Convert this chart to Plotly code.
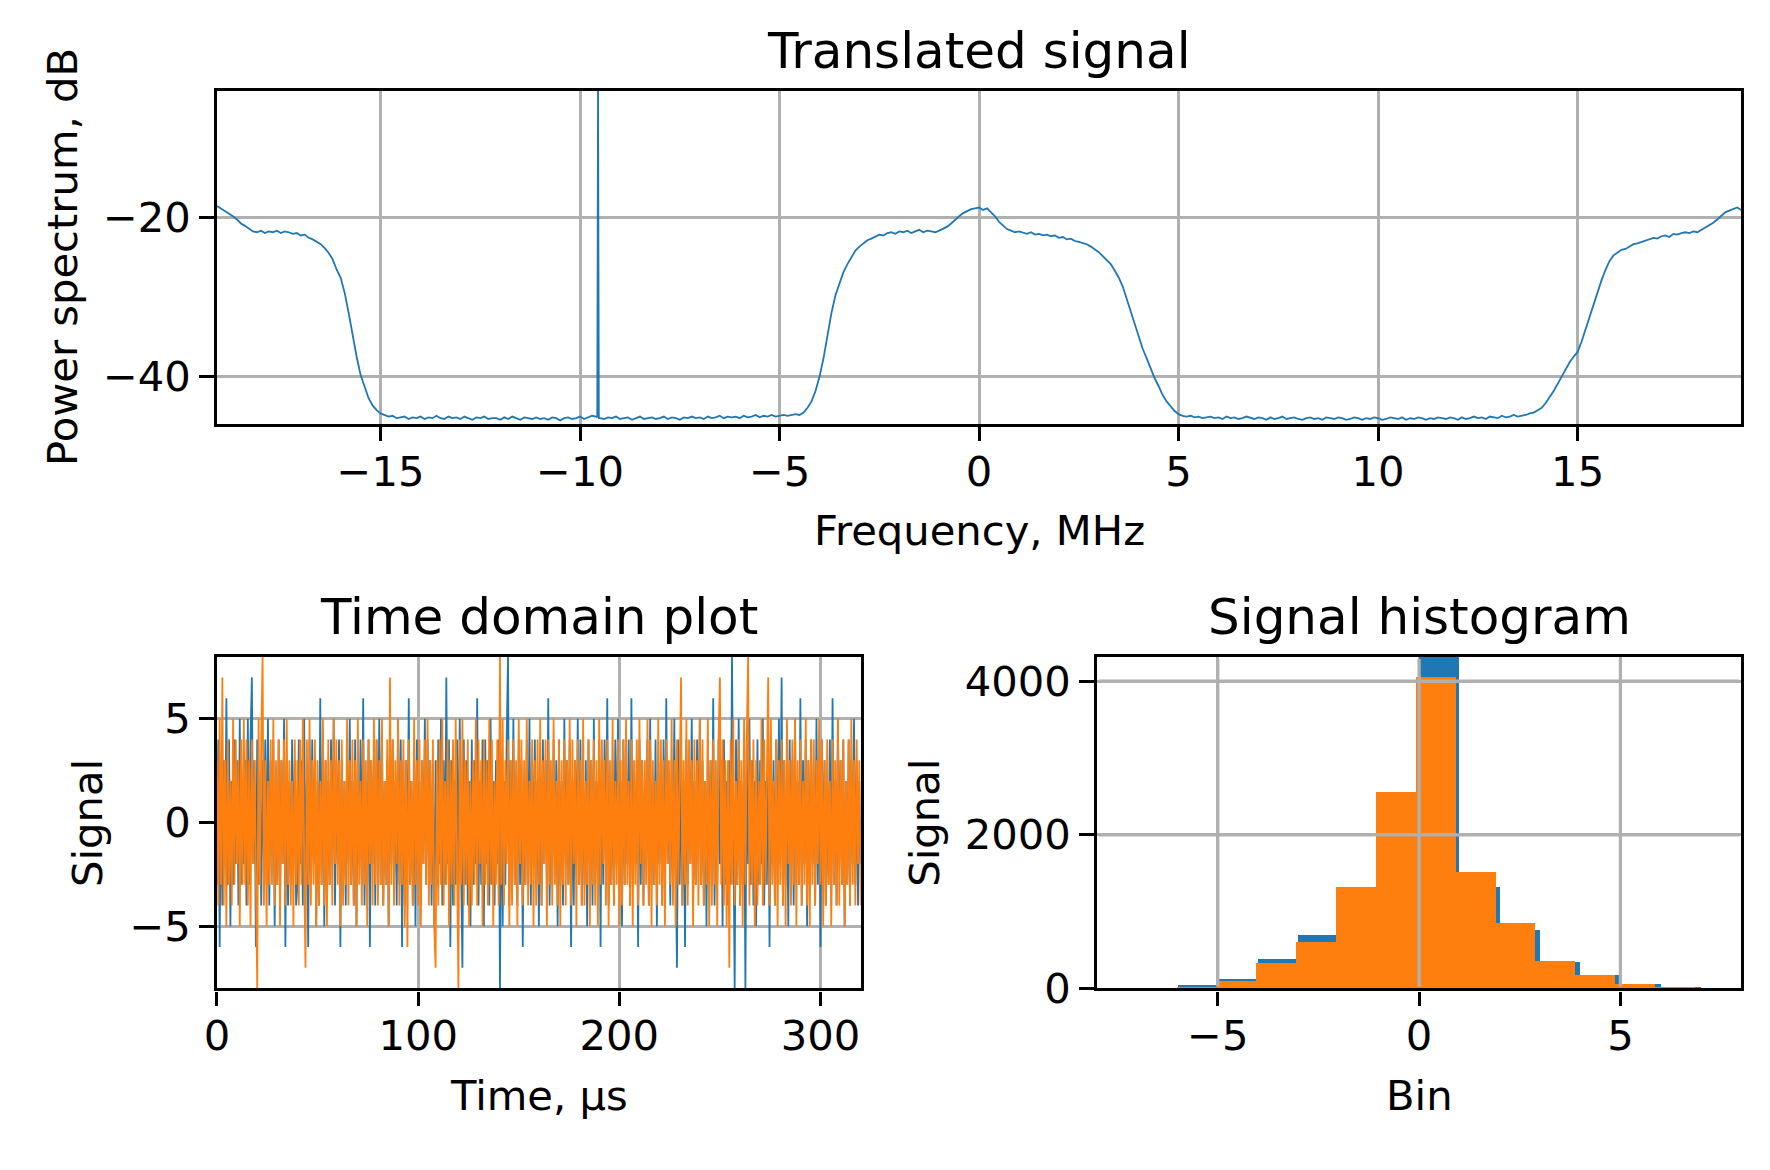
import numpy as np
import plotly.graph_objects as go

# ---------------- data: power spectrum (dB) on a 0.1 MHz grid from -19.1 MHz ----------------
spec_start_mhz = -19.1
spec_step_mhz = 0.1
power_db = [
    -18.6, -18.9, -19.3, -19.5, -19.9, -20.3, -20.8, -21.1, -21.5, -21.8,
    -21.9, -21.7, -22.0, -21.8, -21.9, -21.7, -22.0, -21.8, -21.9, -22.1,
    -22.0, -22.3, -22.2, -22.6, -22.8, -23.1, -23.4, -23.9, -24.5, -25.3,
    -26.6, -27.6, -29.5, -32.0, -34.9, -37.5, -39.8, -41.4, -42.7, -43.6,
    -44.2, -44.6, -44.8, -45.0, -44.9, -45.2, -45.1, -45.0, -45.3, -45.1,
    -45.2, -45.0, -45.3, -45.1, -45.2, -44.9, -45.2, -45.3, -45.0, -45.2,
    -45.1, -45.3, -45.0, -45.2, -45.4, -45.1, -45.2, -45.0, -45.3, -45.2,
    -45.2, -45.4, -45.1, -45.3, -45.0, -45.2, -45.4, -45.1, -45.2, -45.3,
    -45.1, -45.3, -45.2, -45.4, -45.1, -45.2, -45.5, -45.2, -45.1, -45.3,
    -45.2, -45.0, -45.3, -45.1, -44.9, -45.0, -45.2, -45.3, -45.1, -45.2,
    -45.0, -45.3, -45.2, -45.1, -45.4, -45.2, -45.0, -45.3, -45.2, -45.1,
    -45.3, -45.2, -45.0, -45.3, -45.1, -45.2, -45.4, -45.1, -45.2, -45.0,
    -45.2, -45.1, -45.3, -45.0, -45.2, -45.1, -44.9, -45.2, -45.0, -45.1,
    -45.0, -45.2, -44.9, -45.1, -45.0, -44.8, -45.1, -44.9, -45.0, -44.8,
    -45.0, -44.9, -44.8, -44.9, -44.8, -44.7, -44.8, -44.5, -43.9, -43.1,
    -41.8, -40.0, -37.7, -34.9, -32.0, -29.8, -28.3, -26.9, -25.9, -25.0,
    -24.2, -23.7, -23.3, -22.9, -22.7, -22.5, -22.2, -22.3, -22.0, -21.9,
    -22.1, -21.8, -21.9, -21.7, -22.0, -21.8, -21.6, -21.9, -21.7, -21.8,
    -21.9, -21.7, -21.5, -21.2, -20.8, -20.3, -19.9, -19.5, -19.2, -19.0,
    -18.9, -18.8, -19.1, -18.9, -19.4, -19.9, -20.6, -21.1, -21.5, -21.7,
    -21.9, -21.8, -22.0, -22.1, -21.9, -22.2, -22.1, -22.3, -22.2, -22.4,
    -22.3, -22.6, -22.5, -22.8, -22.7, -23.0, -23.1, -23.3, -23.4, -23.7,
    -24.0, -24.4, -24.9, -25.4, -25.9, -26.7, -27.6, -28.7, -30.3, -31.9,
    -33.6, -35.2, -36.5, -37.7, -39.0, -40.2, -41.2, -42.3, -43.1, -43.7,
    -44.3, -44.7, -44.9, -45.0, -44.9, -45.1, -45.0, -45.2, -45.1, -45.0,
    -45.2, -45.1, -45.3, -45.0, -45.2, -45.1, -45.3, -45.2, -45.0, -45.2,
    -45.3, -45.1, -45.2, -45.4, -45.1, -45.3, -45.2, -45.0, -45.3, -45.2,
    -45.1, -45.3, -45.4, -45.2, -45.1, -45.3, -45.2, -45.4, -45.1, -45.2,
    -45.3, -45.1, -45.2, -45.4, -45.3, -45.1, -45.2, -45.4, -45.2, -45.3,
    -45.1, -45.2, -45.4, -45.3, -45.1, -45.2, -45.3, -45.1, -45.4, -45.2,
    -45.3, -45.1, -45.2, -45.4, -45.2, -45.3, -45.1, -45.2, -45.3, -45.1,
    -45.2, -45.4, -45.1, -45.3, -45.2, -45.0, -45.2, -45.1, -45.3, -45.0,
    -45.1, -45.2, -44.9, -45.1, -45.0, -44.8, -45.0, -44.9, -44.8, -44.6,
    -44.5, -44.2, -43.9, -43.3, -42.6, -41.8, -40.9, -40.0, -39.0, -38.2,
    -37.5, -36.9, -35.6, -34.0, -32.4, -30.8, -29.3, -27.9, -26.6, -25.5,
    -24.8, -24.4, -24.1, -24.0, -23.7, -23.4, -23.3, -23.1, -22.9, -22.8,
    -22.6, -22.7, -22.4, -22.3, -22.5, -22.1, -22.2, -22.0, -21.9, -22.0,
    -21.8, -21.9, -21.6, -21.4, -21.1, -20.7, -20.3, -19.8, -19.4, -19.2,
    -19.0, -18.8, -19.1,
]
# narrow spur near -9.55 MHz
spur_freq_mhz = [-9.57, -9.55, -9.53]
spur_db = [-45.1, -3.0, -45.2]

# ---------------- data: time domain samples (2/3 µs spacing) ----------------
signal_i = [
    -3, 4, -6, 2, -4, 3, -2, 6, -3, 4, -5, 2, -3, 4, -2, 3, -4, 5, -3, 2,
    -2, 3, -4, 5, -3, 4, 7, -2, 3, -6, 4, -3, 2, -4, 3, -2, 4, -3, 5, -4,
    3, -2, 4, -5, 2, -3, 4, -4, 3, -2, 5, -6, 3, -4, 2, -3, 4, -2, 3, -4,
    -3, 4, -2, 3, -4, 5, -3, 2, -6, 4, -3, 4, -2, 3, -5, 2, -4, 6, -3, 4,
    -5, 3, -4, 2, -3, 4, -2, 5, -4, 3, -2, 4, -6, 3, -3, 2, -4, 3, -2, 5,
    -3, 2, -4, 4, -5, 3, -2, 4, -3, 6, -4, 2, -3, 4, -6, 3, -2, 3, -4, 4,
    -2, 5, -3, 4, -4, 2, -3, 3, -5, 4, -2, 4, -3, 2, -4, 5, -3, 4, -6, 3,
    -4, 3, -2, 6, -3, 2, -4, 3, -5, 4, -3, 2, -4, 3, -2, 5, -3, 4, -2, 3,
    -4, 2, -5, 3, -3, 4, -2, 5, -4, 3, -3, 7, -2, 4, -6, 3, -4, 2, -3, 4,
    -3, 5, -2, -7, 4, -3, 3, -4, 2, -5, 4, -3, 3, -2, 6, -4, 2, -3, 4, -5,
    4, -2, 3, -4, 5, -3, 2, -4, 3, -2, 4, -8, 3, -5, 2, -3, 4, 8, -4, 3,
    -2, 5, -3, 2, -4, 4, -3, 3, -6, 2, -3, 4, -2, 5, -4, 3, -2, 4, -3, 2,
    -5, 3, -4, 4, -2, 3, -3, 6, -4, 2, -3, 4, -2, 3, -5, 4, -3, 2, -4, 5,
    -2, 3, -3, 4, -6, 2, -4, 3, -2, 5, -3, 4, -4, 2, -3, 3, -5, 4, -2, 3,
    -4, 5, -3, 2, -2, 4, -6, 3, -3, 4, -2, 6, -4, 2, -3, 3, -4, 4, -2, 5,
    -3, 2, -5, 4, -3, 3, -2, 4, -4, 6, -3, 2, -2, 3, -6, 4, -3, 3, -4, 2,
    -2, 4, -4, 5, -3, 2, -3, 4, -5, 3, -2, 3, -4, 4, -3, 6, -2, 2, -4, 3,
    -3, 5, -2, -7, 4, -3, 3, -4, 2, -6, 4, -3, 3, -2, 5, -4, 2, -3, 4, -2,
    5, -3, 3, -4, 2, -5, 4, -2, 3, -3, 6, -4, 2, -3, 4, -2, 3, -5, 4, -3,
    2, -4, 3, -3, 8, -2, -8, 4, -3, 5, -4, 2, -3, 3, -8, 4, -2, 5, -3, 3,
    -4, 2, -5, 4, -3, 3, -2, 5, -4, 2, -3, 4, -6, 3, -2, 3, -4, 4, -3, 5,
    -2, 7, -4, 3, -3, 2, -5, 4, -2, 3, -4, 5, -3, 2, -3, 6, -4, 3, -2, 4,
    -5, 3, -3, 4, -2, 2, -4, 5, -3, 3, -6, 4, -2, 3, -4, 2, -3, 4, -4, 6,
    -3, 2, -4, 5, -2, 3, -3, 4, -5, 2, -3, 4, -4, 3, -2, 5, -3, 3, -4, 2,
    -2,
]
signal_q = [
    3, -4, 5, -3, 7, -4, 3, -5, 4, -3, 2, -4, 5, -3, 4, -2, 3, -5, 4, -3,
    5, -3, 4, -4, 3, -5, 4, -2, 3, -4, -8, 5, -3, 4, 8, -4, 3, -5, 2, -3,
    4, -3, 5, -4, 3, -3, 4, -5, 3, -2, 4, -4, 5, -3, 3, -4, 2, -5, 4, -3,
    3, -4, 4, -3, 5, -2, -7, 4, -3, 5, -4, 3, -3, 4, -5, 3, -4, 2, -3, 5,
    -4, 3, -5, 4, -3, 3, -4, 5, -2, 4, -3, 3, -5, 4, -4, 2, -3, 5, -4, 3,
    -3, 4, -4, 3, -5, 5, -3, 2, -4, 4, -3, 3, -5, 4, -2, 3, -4, 5, -3, 4,
    -4, 3, -3, 5, -4, 2, -3, 4, -5, 7, -3, 4, -4, 3, -2, 5, -4, 3, -3, 4,
    -5, 3, -6, 4, -3, 2, -4, 5, -3, 3, -4, 4, -5, 3, -2, 4, -3, 5, -4, 3,
    -3, 4, -5, -7, 3, -4, 4, -3, 5, -4, 2, -3, 4, -5, 3, -3, 4, -4, 5, -2,
    -8, 4, -3, 5, -4, 3, -3, 4, -5, 2, -4, 3, -3, 5, -4, 4, -2, 3, -5, 4,
    -3, 3, -4, 5, -3, 4, -5, 2, -3, 4, -4, 8, -3, 5, -4, 3, -2, 4, -5, 3,
    -4, 4, -3, 3, -5, 5, -2, 4, -4, 3, -3, 5, -4, 2, -3, 4, -5, 3, -4, 4,
    -3, 5, -4, 3, -2, 4, -5, 4, -3, 3, -4, 5, -3, 2, -4, 4, -5, 3, -3, 4,
    -4, 3, -3, 5, -4, 4, -2, 3, -5, 4, -3, 3, -4, 5, -4, 2, -3, 4, -5, 3,
    -3, 4, -4, 3, -5, 5, -3, 4, -2, 3, -4, 4, -5, 3, -3, 5, -4, 2, -3, 4,
    -5, 3, -4, 4, -3, 5, -3, 2, -4, 4, -5, 3, -3, 4, -4, 5, -2, 3, -4, 3,
    -3, 5, -4, 4, -5, 3, -3, 2, -4, 5, -3, 4, -4, 3, -5, 4, -2, 3, -3, 5,
    -4, 3, -5, 4, -3, 2, 7, -4, 3, -3, 5, -4, 4, -2, 3, -5, 4, -3, 3, -4,
    5, -3, 4, -4, 2, -3, 5, -5, 3, -4, 4, -3, 3, -5, 4, 7, -3, 4, -4, 3,
    -5, 3, -7, 4, -3, 5, -4, 2, -3, 4, -4, 3, -5, 5, -3, 4, 8, -4, 3, -3,
    4, -5, 3, -4, 2, -3, 5, -4, 4, -3, 3, 7, -4, 5, -3, 2, -4, 4, -5, 3,
    -3, 4, -4, 3, -5, 5, -2, 3, -4, 4, -3, 5, -5, 3, -3, 4, -4, 2, -3, 5,
    -4, 3, -5, 4, -3, 4, -4, 3, -2, 5, -3, 4, -5, 3, -4, 4, -3, 2, -5, 4,
    -3, 3, -4, 5, -4, 3, -3, 4, -5, 2, -3, 4, -4, 5, -3, 3, -4, 4, -2, 3,
    -4,
]
sample_period_us = 2.0 / 3.0

# ---------------- data: histograms ----------------
hist_i_edges = [-7, -6, -5, -4, -3, -2, -1, 0, 1, 2, 3, 4, 5, 6, 7]
hist_i_counts = [8, 47, 124, 384, 704, 1300, 2530, 4500, 1328, 769, 354, 179, 64, 26]
hist_q_edges = [-6.02, -5.03, -4.04, -3.05, -2.06, -1.07, -0.08, 0.91, 1.90, 2.89,
                3.88, 4.87, 5.86, 6.85]
hist_q_counts = [21, 102, 329, 611, 1328, 2557, 4057, 1520, 854, 367, 179, 64, 21]

# ---------------- labels ----------------
title_top = "Translated signal"
title_time = "Time domain plot"
title_hist = "Signal histogram"
xlabel_top = "Frequency, MHz"
ylabel_top = "Power spectrum, dB"
xlabel_time = "Time, µs"
ylabel_time = "Signal"
xlabel_hist = "Bin"
ylabel_hist = "Signal"

# ---------------- styling ----------------
W, H = 1770, 1170
BLUE = "#1f77b4"
ORANGE = "#ff7f0e"
GRID = "#b0b0b0"
FONT = "DejaVu Sans"
TICK_SIZE = 41.7
TITLE_SIZE = 50
LW_AX = 3.3


def px_x(p):
    return p / W


def px_y(p):
    return 1 - p / H


# axes boxes in pixel coordinates (left, right, top, bottom)
box_top = (205.5, 1741, 93, 433)
box_bl = (205.5, 854, 671, 1010)
box_br = (1092, 1741, 671, 1010)

# build spectrum with spur
grid_f = np.round(spec_start_mhz + spec_step_mhz * np.arange(len(power_db)), 3)
f_all = np.concatenate([grid_f, spur_freq_mhz])
p_all = np.concatenate([power_db, spur_db])
order = np.argsort(f_all, kind="stable")
f_all = f_all[order]
p_all = p_all[order]

t_i = np.arange(len(signal_i)) * sample_period_us
t_q = np.arange(len(signal_q)) * sample_period_us

ei = np.array(hist_i_edges, dtype=float)
eq = np.array(hist_q_edges, dtype=float)

fig = go.Figure()
fig.add_trace(go.Scatter(x=f_all, y=p_all, mode="lines",
                         line=dict(color=BLUE, width=1.8), xaxis="x", yaxis="y"))
fig.add_trace(go.Scatter(x=t_i, y=signal_i, mode="lines",
                         line=dict(color=BLUE, width=1.8), xaxis="x2", yaxis="y2"))
fig.add_trace(go.Scatter(x=t_q, y=signal_q, mode="lines",
                         line=dict(color=ORANGE, width=1.8), xaxis="x2", yaxis="y2"))
fig.add_trace(go.Bar(x=(ei[:-1] + ei[1:]) / 2, y=hist_i_counts, width=np.diff(ei),
                     marker=dict(color=BLUE, line=dict(width=0)), xaxis="x3", yaxis="y3"))
fig.add_trace(go.Bar(x=(eq[:-1] + eq[1:]) / 2, y=hist_q_counts, width=np.diff(eq),
                     marker=dict(color=ORANGE, line=dict(width=0)), xaxis="x3", yaxis="y3"))


def axis(box, horiz, rng, tickvals, anchor):
    l, r, t, b = box
    d = dict(
        range=rng, tickvals=tickvals, anchor=anchor,
        showline=True, mirror=True, linecolor="black", linewidth=LW_AX,
        ticks="outside", ticklen=14.6, tickwidth=LW_AX, tickcolor="black",
        showgrid=True, gridcolor=GRID, gridwidth=LW_AX, zeroline=False,
        tickfont=dict(family=FONT, size=TICK_SIZE, color="black"),
    )
    if horiz:
        d["domain"] = [px_x(l), px_x(r)]
        d["ticklabelstandoff"] = -6
    else:
        d["domain"] = [px_y(b), px_y(t)]
        d["ticklabelstandoff"] = 0
    return d


fig.update_layout(
    width=W, height=H,
    margin=dict(l=0, r=0, t=0, b=0),
    paper_bgcolor="white", plot_bgcolor="white",
    showlegend=False, barmode="overlay", bargap=0,
    font=dict(family=FONT, color="black"),
    xaxis=axis(box_top, True, [-19.1, 19.1], [-15, -10, -5, 0, 5, 10, 15], "y"),
    yaxis=axis(box_top, False, [-45.9, -4.2], [-40, -20], "x"),
    xaxis2=axis(box_bl, True, [0, 320], [0, 100, 200, 300], "y2"),
    yaxis2=axis(box_bl, False, [-8, 8], [-5, 0, 5], "x2"),
    xaxis3=axis(box_br, True, [-8, 8], [-5, 0, 5], "y3"),
    yaxis3=axis(box_br, False, [0, 4320], [0, 2000, 4000], "x3"),
)

# grid lines drawn above histogram bars (as matplotlib does for patches)
shapes = []
for gx in [-5, 0, 5]:
    shapes.append(dict(type="line", xref="x3", yref="y3 domain", x0=gx, x1=gx,
                       y0=0.006, y1=0.994, layer="above",
                       line=dict(color=GRID, width=LW_AX)))
for gy in [2000, 4000]:
    shapes.append(dict(type="line", xref="x3 domain", yref="y3", x0=0.003, x1=0.997,
                       y0=gy, y1=gy, layer="above",
                       line=dict(color=GRID, width=LW_AX)))
fig.update_layout(shapes=shapes)

ann = []


def add_text(text, xpx, ypx, size, angle=0, yanchor="bottom"):
    ann.append(dict(text=text, x=px_x(xpx), y=px_y(ypx), xref="paper", yref="paper",
                    xanchor="center", yanchor=yanchor, showarrow=False, textangle=angle,
                    font=dict(family=FONT, size=size, color="black")))


# titles (baseline ~25 px above axes top)
add_text(title_top, (box_top[0] + box_top[1]) / 2, 84, TITLE_SIZE)
add_text(title_time, (box_bl[0] + box_bl[1]) / 2, 662, TITLE_SIZE)
add_text(title_hist, (box_br[0] + box_br[1]) / 2, 662, TITLE_SIZE)
# x labels
add_text(xlabel_top, (box_top[0] + box_top[1]) / 2, 569, TICK_SIZE)
add_text(xlabel_time, (box_bl[0] + box_bl[1]) / 2, 1147, TICK_SIZE)
add_text(xlabel_hist, (box_br[0] + box_br[1]) / 2, 1147, TICK_SIZE)
# y labels
add_text(ylabel_top, 50, (box_top[2] + box_top[3]) / 2, TICK_SIZE, angle=-90, yanchor="middle")
add_text(ylabel_time, 75, (box_bl[2] + box_bl[3]) / 2, TICK_SIZE, angle=-90, yanchor="middle")
add_text(ylabel_hist, 918, (box_br[2] + box_br[3]) / 2, TICK_SIZE, angle=-90, yanchor="middle")
fig.update_layout(annotations=ann)

fig.write_html("out.html", config={"displayModeBar": False},
               post_script="document.body.style.margin='0px';")
